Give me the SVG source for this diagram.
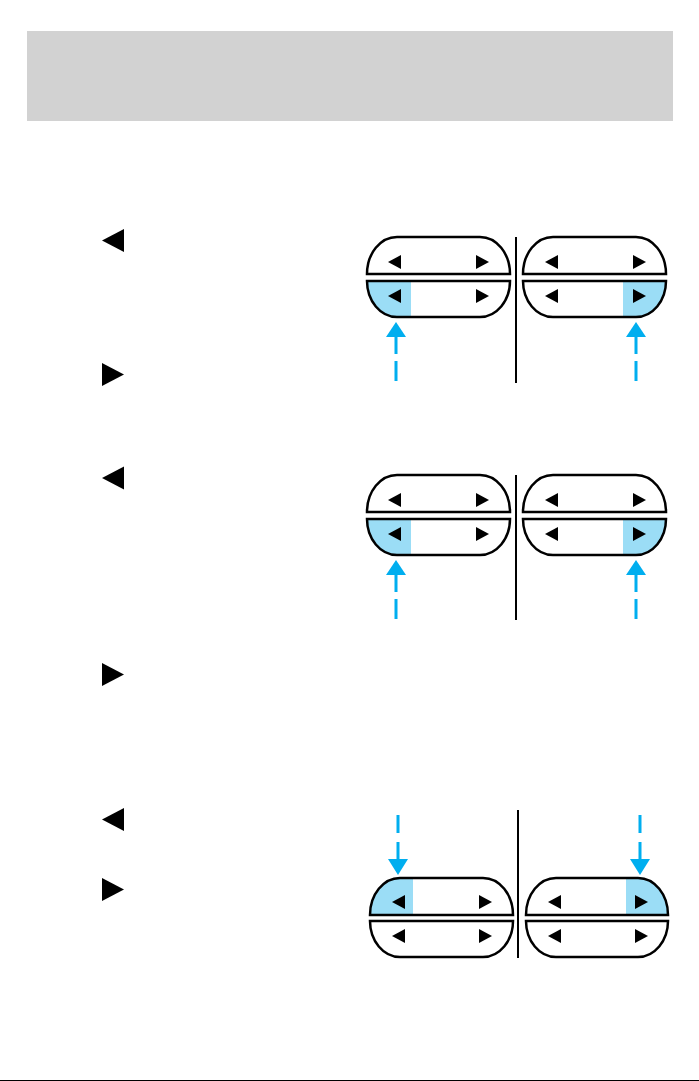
<svg xmlns="http://www.w3.org/2000/svg" width="699" height="1081" viewBox="0 0 699 1081">
<style>
.pill{fill:#fff;stroke:#000;stroke-width:2.5}
.hl{fill:#9BDDF6;stroke:none}
.tri{fill:#000}
.div{stroke:#000;stroke-width:2}
.shaft{stroke:#00AEEF;stroke-width:3;fill:none}
.head{fill:#00AEEF}
</style>
<defs>
<polygon id="tl" points="0,0 13,-7 13,7"/>
<polygon id="tr" points="0,-7 13,0 0,7"/>
<polygon id="bigL" points="0,0 22,-11.5 22,11.5"/>
<polygon id="bigR" points="0,-11.5 22,0 0,11.5"/>
</defs>
<rect width="699" height="1081" fill="#fff"/>
<rect id="header" x="27" y="31" width="646" height="90" fill="#D2D2D2"/>

<g id="text-markers" class="tri">
<use href="#bigL" x="102" y="240.5"/>
<use href="#bigR" x="102" y="374.5"/>
<use href="#bigL" x="102" y="478"/>
<use href="#bigR" x="102" y="674.5"/>
<use href="#bigL" x="102" y="819.5"/>
<use href="#bigR" x="102" y="889.5"/>
</g>

<!-- Diagram 1 -->
<g id="d1-left">
<path class="pill" d="M367,274 A30,37 0 0 1 397,237 L480,237 A30,37 0 0 1 510,274 Z"/>
<path class="hl" d="M367,281 L411,281 L411,317 L397,317 A30,36 0 0 1 367,281 Z"/>
<path class="pill" style="fill:none" d="M367,281 L510,281 A30,36 0 0 1 480,317 L397,317 A30,36 0 0 1 367,281 Z"/>
<g class="tri"><use href="#tl" x="388" y="262"/><use href="#tr" x="476" y="262"/><use href="#tl" x="388" y="296"/><use href="#tr" x="476" y="296"/></g>
</g>
<g id="d1-right">
<path class="pill" d="M523,274 A30,37 0 0 1 553,237 L636,237 A30,37 0 0 1 666,274 Z"/>
<path class="hl" d="M623,281 L666,281 A30,36 0 0 1 636,317 L623,317 Z"/>
<path class="pill" style="fill:none" d="M523,281 L666,281 A30,36 0 0 1 636,317 L553,317 A30,36 0 0 1 523,281 Z"/>
<g class="tri"><use href="#tl" x="545" y="262"/><use href="#tr" x="633" y="262"/><use href="#tl" x="545" y="296"/><use href="#tr" x="633" y="296"/></g>
</g>
<line id="d1-divider" class="div" x1="516" y1="237" x2="516" y2="383"/>

<!-- Diagram 2 -->
<g id="d2-left">
<path class="pill" d="M367,512 A30,37 0 0 1 397,475 L480,475 A30,37 0 0 1 510,512 Z"/>
<path class="hl" d="M367,519 L411,519 L411,555 L397,555 A30,36 0 0 1 367,519 Z"/>
<path class="pill" style="fill:none" d="M367,519 L510,519 A30,36 0 0 1 480,555 L397,555 A30,36 0 0 1 367,519 Z"/>
<g class="tri"><use href="#tl" x="388" y="500"/><use href="#tr" x="476" y="500"/><use href="#tl" x="388" y="534"/><use href="#tr" x="476" y="534"/></g>
</g>
<g id="d2-right">
<path class="pill" d="M523,512 A30,37 0 0 1 553,475 L636,475 A30,37 0 0 1 666,512 Z"/>
<path class="hl" d="M623,519 L666,519 A30,36 0 0 1 636,555 L623,555 Z"/>
<path class="pill" style="fill:none" d="M523,519 L666,519 A30,36 0 0 1 636,555 L553,555 A30,36 0 0 1 523,519 Z"/>
<g class="tri"><use href="#tl" x="545" y="500"/><use href="#tr" x="633" y="500"/><use href="#tl" x="545" y="534"/><use href="#tr" x="633" y="534"/></g>
</g>
<line id="d2-divider" class="div" x1="516" y1="475" x2="516" y2="620"/>

<!-- Diagram 3 -->
<g id="d3-left">
<path class="hl" d="M370,915 A30,37 0 0 1 400,878 L413,878 L413,915 Z"/>
<path class="pill" style="fill:none" d="M370,915 A30,37 0 0 1 400,878 L483,878 A30,37 0 0 1 513,915 Z"/>
<path class="pill" d="M370,921 L513,921 A30,36 0 0 1 483,957 L400,957 A30,36 0 0 1 370,921 Z"/>
<g class="tri"><use href="#tl" x="392" y="902"/><use href="#tr" x="479" y="902"/><use href="#tl" x="392" y="936"/><use href="#tr" x="479" y="936"/></g>
</g>
<g id="d3-right">
<path class="hl" d="M626,878 L638,878 A30,37 0 0 1 668,915 L626,915 Z"/>
<path class="pill" style="fill:none" d="M526,915 A30,37 0 0 1 556,878 L638,878 A30,37 0 0 1 668,915 Z"/>
<path class="pill" d="M526,921 L668,921 A30,36 0 0 1 638,957 L556,957 A30,36 0 0 1 526,921 Z"/>
<g class="tri"><use href="#tl" x="548" y="902"/><use href="#tr" x="635" y="902"/><use href="#tl" x="548" y="936"/><use href="#tr" x="635" y="936"/></g>
</g>
<line id="d3-divider" class="div" x1="518" y1="810" x2="518" y2="958"/>

<g id="connectors">
<g id="a1L"><path class="shaft" d="M396,336 V354 M396,361 V381"/><polygon class="head" points="396,322 406,337 386,337"/></g>
<g id="a1R"><path class="shaft" d="M636,336 V354 M636,361 V381"/><polygon class="head" points="636,322 646,337 626,337"/></g>
<g id="a2L"><path class="shaft" d="M396,574 V592 M396,599 V619"/><polygon class="head" points="396,560 406,575 386,575"/></g>
<g id="a2R"><path class="shaft" d="M636,574 V592 M636,599 V619"/><polygon class="head" points="636,560 646,575 626,575"/></g>
<g id="a3L"><path class="shaft" d="M398,815 V833 M398,842 V860"/><polygon class="head" points="398,875 408,859 388,859"/></g>
<g id="a3R"><path class="shaft" d="M640,815 V833 M640,842 V860"/><polygon class="head" points="640,875 650,859 630,859"/></g>
</g>
<rect id="bottom-edge" x="0" y="1080" width="699" height="1" fill="#000"/>
</svg>
